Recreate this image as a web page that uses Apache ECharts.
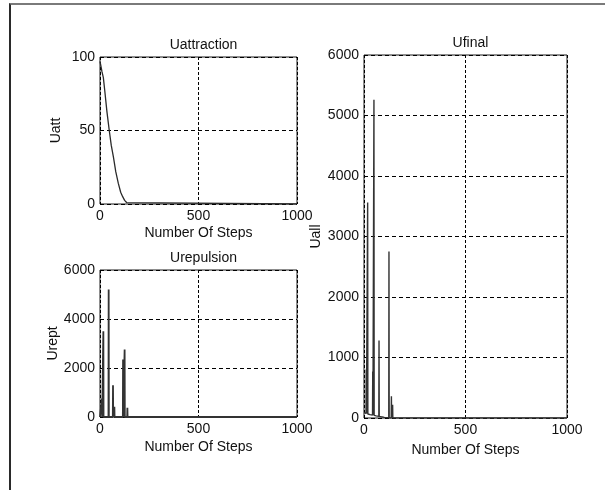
<!DOCTYPE html>
<html>
<head>
<meta charset="utf-8">
<script src="https://cdn.jsdelivr.net/npm/echarts@6/dist/echarts.min.js"></script>
<style>
html,body{margin:0;padding:0;background:#fff;}
#chart{position:absolute;left:0;top:0;width:605px;height:490px;}
#frame{position:absolute;left:9px;top:3px;width:596px;height:487px;border-top:2px solid #7a7a7a;border-left:2px solid #2a2a2a;pointer-events:none;box-sizing:border-box;}
</style>
</head>
<body>
<div id="chart"></div>
<div id="frame"></div>
<script>
// ---- data ----
const xTicks = [0, 500, 1000];
const attTicks = [0, 50, 100];
const reptTicks = [0, 2000, 4000, 6000];
const allTicks = [0, 1000, 2000, 3000, 4000, 5000, 6000];

const attSteps  = [0, 3, 10, 17, 25, 35, 47, 57, 68, 80, 93, 105, 115, 125, 135, 140, 1000];
const attValues = [97, 95, 90, 86, 76, 63, 50, 40, 32, 22, 14, 8, 5, 2.5, 1, 0.3, 0];

const reptSteps  = [0, 9, 10, 11, 16, 17, 18, 43, 44, 45, 65, 66, 67, 72, 73, 74, 116, 117, 118, 124, 125, 126, 138, 139, 140, 1000];
const reptValues = [0, 0, 750, 0, 0, 3500, 0, 0, 5200, 0, 0, 1300, 0, 0, 420, 0, 0, 2350, 0, 0, 2750, 0, 0, 380, 0, 0];

const allSteps  = [0, 5, 10, 11, 12, 17, 18, 19, 30, 42, 43, 44, 48, 49, 50, 60, 73, 74, 75, 85, 100, 122, 123, 124, 134, 135, 136, 140, 141, 142, 1000];
const allValues = [90, 82, 75, 800, 72, 68, 3560, 66, 55, 48, 770, 47, 44, 5260, 43, 36, 28, 1280, 27, 20, 10, 3, 2750, 3, 1, 360, 1, 0.5, 220, 0, 0];

const titles = ['Uattraction', 'Urepulsion', 'Ufinal'];
const yNames = ['Uatt', 'Urept', 'Uall'];
const xName = 'Number Of Steps';

// ---- chart ----
const FONT = 'Liberation Sans, Arial, sans-serif';
const TXT = '#111';
const FS = 14;
const zip = (a, b) => a.map((v, i) => [v, b[i]]);

const grids = [
  {left: 100, top: 57, right: 308, bottom: 286},
  {left: 100, top: 270, right: 308, bottom: 73},
  {left: 364, top: 55, right: 38, bottom: 72}
];
const yRanges = [attTicks, reptTicks, allTicks];
const xGaps = [22, 23, 25];
const yGaps = [37, 36, 41];

const option = {
  animation: false,
  backgroundColor: '#fff',
  textStyle: {fontFamily: FONT},
  title: grids.map((g, i) => ({
    text: titles[i],
    left: (g.left + (605 - g.right)) / 2,
    top: [33, 246, 31][i],
    textAlign: 'center',
    textStyle: {fontFamily: FONT, fontSize: FS, fontWeight: 'normal', color: TXT}
  })),
  grid: grids.map(g => Object.assign({show: true, borderColor: '#1a1a1a', borderWidth: 1, backgroundColor: 'transparent'}, g)),
  xAxis: grids.map((g, i) => ({
    type: 'value', gridIndex: i, min: xTicks[0], max: xTicks[xTicks.length - 1], interval: xTicks[1] - xTicks[0],
    name: xName, nameLocation: 'middle', nameGap: xGaps[i],
    nameTextStyle: {fontFamily: FONT, fontSize: FS, color: TXT},
    axisLine: {show: false}, axisTick: {show: false},
    axisLabel: {fontFamily: FONT, fontSize: FS, color: TXT, margin: 5, formatter: v => String(v)},
    splitLine: {show: true, lineStyle: {color: '#000', width: 1, type: [3, 2]}}
  })),
  yAxis: grids.map((g, i) => {
    const t = yRanges[i];
    return {
      type: 'value', gridIndex: i, min: t[0], max: t[t.length - 1], interval: t[1] - t[0],
      name: yNames[i], nameLocation: 'middle', nameGap: yGaps[i],
      nameTextStyle: {fontFamily: FONT, fontSize: FS, color: TXT},
      axisLine: {show: false}, axisTick: {show: false},
      axisLabel: {fontFamily: FONT, fontSize: FS, color: TXT, margin: 5, formatter: v => String(v)},
      splitLine: {show: true, lineStyle: {color: '#000', width: 1, type: [4, 3]}}
    };
  }),
  series: [
    {type: 'line', xAxisIndex: 0, yAxisIndex: 0, data: zip(attSteps, attValues), showSymbol: false, lineStyle: {color: '#2a2a2a', width: 1.3}, z: 3},
    {type: 'line', xAxisIndex: 1, yAxisIndex: 1, data: zip(reptSteps, reptValues), showSymbol: false, lineStyle: {color: '#333', width: 1.8}, z: 3},
    {type: 'line', xAxisIndex: 2, yAxisIndex: 2, data: zip(allSteps, allValues), showSymbol: false, lineStyle: {color: '#333', width: 1.4}, z: 3}
  ]
};

const chart = echarts.init(document.getElementById('chart'), null, {renderer: 'canvas'});
chart.setOption(option);
</script>
</body>
</html>
